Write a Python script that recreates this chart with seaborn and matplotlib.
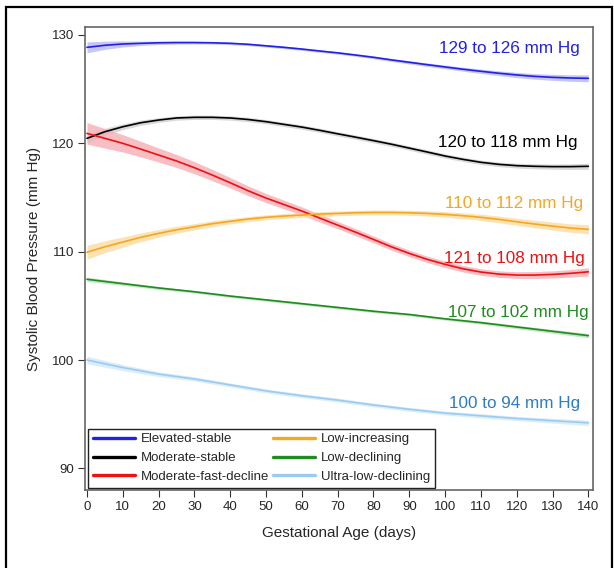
import pandas as pd
import matplotlib.pyplot as plt
import matplotlib.patches as mpatches
import seaborn as sns

days_5 = list(range(0, 141, 5))
days_10 = list(range(0, 141, 10))

groups = ["Elevated-stable", "Moderate-stable", "Moderate-fast-decline",
          "Low-increasing", "Low-declining", "Ultra-low-declining"]

# read every 5 days
elevated_stable = [128.86, 129.05, 129.17, 129.23, 129.28, 129.3, 129.3, 129.28,
                   129.23, 129.14, 129.0, 128.86, 128.7, 128.52, 128.35, 128.15,
                   127.94, 127.7, 127.48, 127.26, 127.05, 126.84, 126.65, 126.47,
                   126.31, 126.18, 126.09, 126.03, 126.0]
moderate_stable = [120.46, 121.07, 121.53, 121.9, 122.15, 122.34, 122.4, 122.4,
                   122.34, 122.2, 122.0, 121.75, 121.5, 121.2, 120.88, 120.57,
                   120.25, 119.92, 119.56, 119.2, 118.83, 118.52, 118.25, 118.06,
                   117.94, 117.88, 117.85, 117.85, 117.88]
moderate_fast_decline = [120.92, 120.46, 120.0, 119.47, 118.92, 118.37, 117.75, 117.07,
                         116.36, 115.62, 114.95, 114.35, 113.75, 113.1, 112.45, 111.8,
                         111.13, 110.45, 109.84, 109.29, 108.83, 108.42, 108.12, 107.93,
                         107.84, 107.84, 107.9, 108.0, 108.14]
low_increasing = [109.95, 110.45, 110.89, 111.32, 111.69, 112.02, 112.3, 112.58,
                  112.8, 113.01, 113.17, 113.29, 113.38, 113.47, 113.53, 113.59,
                  113.62, 113.62, 113.59, 113.53, 113.44, 113.32, 113.17, 112.98,
                  112.76, 112.55, 112.36, 112.18, 112.06]
# read every 10 days
low_declining = [107.45, 107.05, 106.65, 106.3, 105.9, 105.55, 105.2, 104.85,
                 104.5, 104.2, 103.8, 103.45, 103.05, 102.65, 102.25]
ultra_low_declining = [100.0, 99.3, 98.7, 98.25, 97.7, 97.15, 96.7, 96.3,
                       95.85, 95.45, 95.1, 94.85, 94.6, 94.4, 94.2]

# half width of the confidence band
band_elevated = [0.5, 0.38, 0.28, 0.2, 0.16, 0.14, 0.13, 0.12, 0.12, 0.12, 0.12, 0.12,
                 0.12, 0.12, 0.12, 0.12, 0.13, 0.14, 0.15, 0.16, 0.17, 0.18, 0.2, 0.22,
                 0.24, 0.26, 0.28, 0.3, 0.32]
band_moderate = [0.38, 0.32, 0.27, 0.24, 0.22, 0.2, 0.2, 0.2, 0.2, 0.2, 0.2, 0.2,
                 0.2, 0.2, 0.2, 0.2, 0.2, 0.2, 0.2, 0.2, 0.2, 0.2, 0.2, 0.21,
                 0.22, 0.23, 0.24, 0.26, 0.28]
band_fast = [1.0, 0.9, 0.8, 0.72, 0.65, 0.6, 0.56, 0.52, 0.48, 0.45, 0.42, 0.4,
             0.38, 0.36, 0.34, 0.33, 0.32, 0.31, 0.3, 0.3, 0.3, 0.3, 0.3, 0.3,
             0.31, 0.32, 0.33, 0.35, 0.38]
band_increasing = [0.65, 0.55, 0.47, 0.41, 0.36, 0.32, 0.29, 0.27, 0.25, 0.24, 0.23, 0.22,
                   0.22, 0.22, 0.22, 0.22, 0.22, 0.22, 0.23, 0.24, 0.25, 0.27, 0.29, 0.31,
                   0.33, 0.35, 0.37, 0.39, 0.42]
band_declining = [0.2, 0.16, 0.14, 0.12, 0.12, 0.12, 0.12, 0.12, 0.12, 0.12, 0.12, 0.14, 0.16, 0.18, 0.2]
band_ultra = [0.35, 0.28, 0.22, 0.2, 0.18, 0.18, 0.18, 0.18, 0.18, 0.18, 0.18, 0.2, 0.2, 0.22, 0.25]

range_labels = ["129 to 126 mm Hg", "120 to 118 mm Hg", "121 to 108 mm Hg",
                "110 to 112 mm Hg", "107 to 102 mm Hg", "100 to 94 mm Hg"]
label_x = [137.7, 137.0, 139.0, 138.5, 140.0, 137.7]
label_y = [128.75, 120.1, 109.35, 114.45, 104.4, 96.0]

colors = ["#2020E8", "#000000", "#EE1111", "#F5A623", "#1E8C1E", "#99CCF2"]
band_colors = ["#B8B8F6", "#CFCFCF", "#F6AEB6", "#FCDCA0", "#B8DDB8", "#D4E8F8"]
text_colors = ["#2020E8", "#000000", "#EE1111", "#F5A623", "#1E8C1E", "#2E7CC4"]

series = [elevated_stable, moderate_stable, moderate_fast_decline,
          low_increasing, low_declining, ultra_low_declining]
series_days = [days_5, days_5, days_5, days_5, days_10, days_10]
bands = [band_elevated, band_moderate, band_fast,
         band_increasing, band_declining, band_ultra]

rows = []
for g, dd, vals in zip(groups, series_days, series):
    for d, v in zip(dd, vals):
        rows.append({"Group": g, "Day": d, "SBP": v})
df = pd.DataFrame(rows)

sns.set_style("ticks")
plt.rcParams["font.family"] = ["Liberation Sans", "DejaVu Sans"]

fig = plt.figure(figsize=(6.14, 5.68), dpi=100)
ax = fig.add_axes([0.1384, 0.1373, 0.8274, 0.8152])

for dd, vals, hw, bc in zip(series_days, series, bands, band_colors):
    lo = [v - h for v, h in zip(vals, hw)]
    hi = [v + h for v, h in zip(vals, hw)]
    ax.fill_between(dd, lo, hi, color=bc, alpha=0.8, lw=0, zorder=1)

sns.lineplot(data=df, x="Day", y="SBP", hue="Group", hue_order=groups,
             palette=colors, linewidth=1.2, legend=False, ax=ax, zorder=2)

for txt, x, y, c in zip(range_labels, label_x, label_y, text_colors):
    ax.text(x, y, txt, color=c, fontsize=12.3, ha="right", va="center")

ax.set_xlim(-0.56, 141.3)
ax.set_ylim(88.0, 130.74)
ax.set_xticks(range(0, 141, 10))
ax.set_yticks([90, 100, 110, 120, 130])
ax.tick_params(labelsize=9.5, length=5, width=0.8, color="#333333", pad=3)
for s in ax.spines.values():
    s.set_visible(True)
    s.set_color("#666666")
    s.set_linewidth(1.2)

ax.set_xlabel("Gestational Age (days)", fontsize=11, labelpad=9)
ax.set_ylabel("Systolic Blood Pressure (mm Hg)", fontsize=11, labelpad=8)

handles = [plt.Line2D([], [], color=c, lw=2.4) for c in colors]
leg = ax.legend(handles=handles, labels=groups, ncol=2, loc="lower left",
                bbox_to_anchor=(0.006, 0.005), frameon=True, fontsize=9.5,
                fancybox=False, edgecolor="#222222", framealpha=1,
                handlelength=3.2, handletextpad=0.45, columnspacing=0.3,
                labelspacing=0.5, borderpad=0.35, borderaxespad=0)
leg.get_frame().set_linewidth(1.0)

# outer frame around the whole figure
frame = mpatches.Rectangle((6 / 614, -0.05), 606 / 614, 1 - 7 / 568 + 0.05,
                           transform=fig.transFigure, fill=False,
                           edgecolor="black", linewidth=1.6)
fig.patches.append(frame)

fig.savefig("out.png", dpi=100)
